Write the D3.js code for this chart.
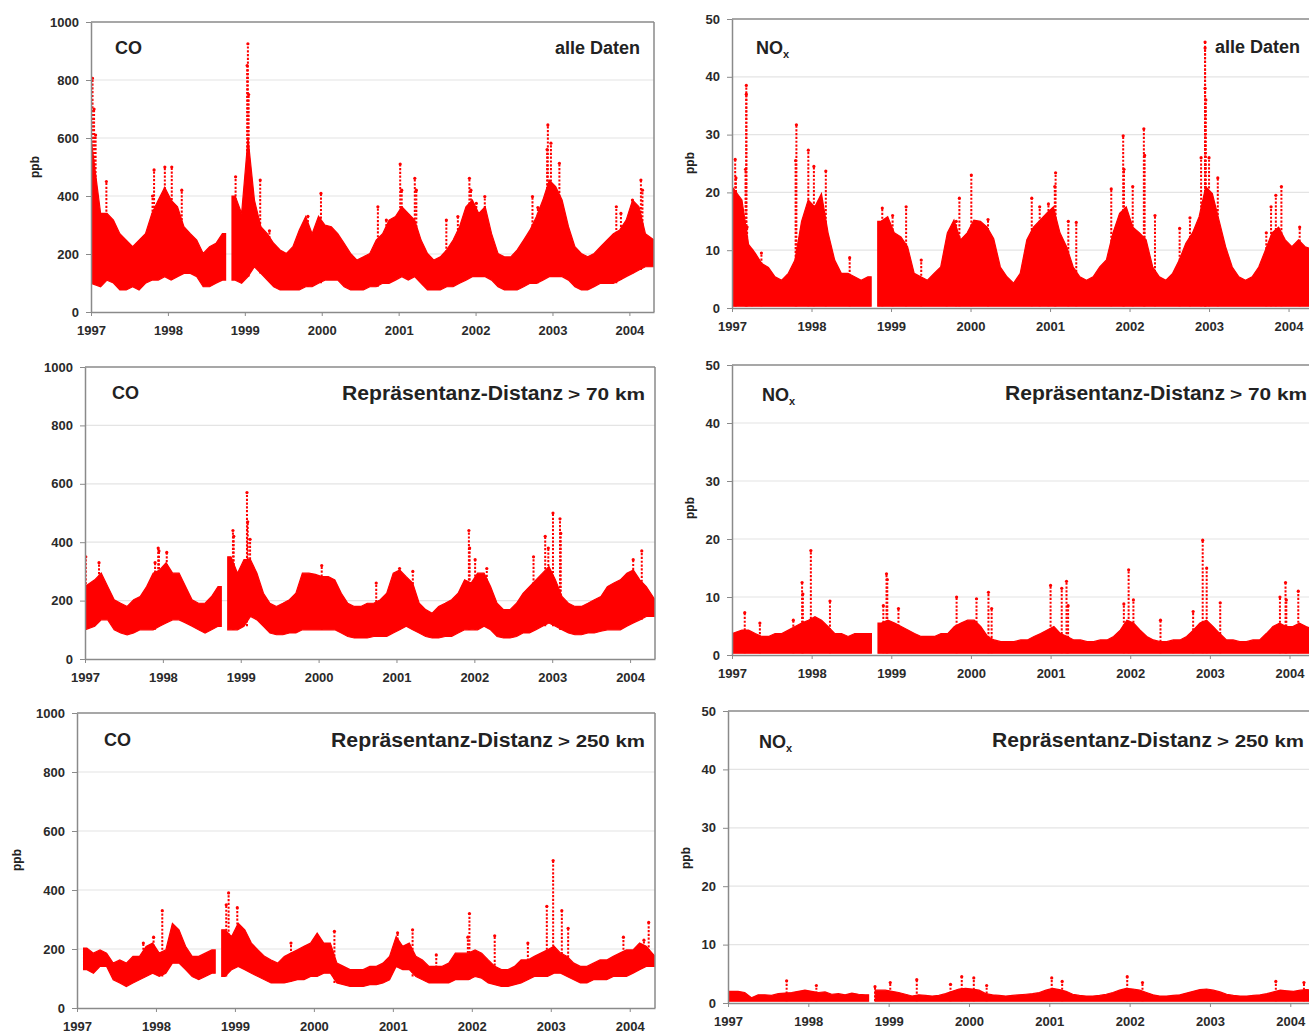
<!DOCTYPE html>
<html>
<head>
<meta charset="utf-8">
<script src="https://cdn.jsdelivr.net/npm/d3@7"></script>
<style>
  body { margin: 0; background: #fff; }
  svg { display: block; font-family: "Liberation Sans", Arial, sans-serif; }
  .axis path, .axis line { stroke: #8a8a8a; }
  .axis text { fill: #2a2a2a; font-size: 13px; font-weight: bold; font-family: "Liberation Sans", Arial, sans-serif; }
</style>
</head>
<body>
<svg width="1309" height="1036"></svg>
<script>
// monthly envelopes Jan 1997 .. Apr 2004 (88 months), null = no data (Oct 1998)
const yearTicks = [1997, 1998, 1999, 2000, 2001, 2002, 2003, 2004];
const coTicks = [0, 200, 400, 600, 800, 1000];
const noxTicks = [0, 10, 20, 30, 40, 50];

// CO, alle Daten
const coAllLo = [99,87,110,100,76,76,87,76,99,110,110,122, 110,122,133,133,122,87,87,99,110,null,110,99,
  122,156,133,110,87,76,76,76,76,87,87,99, 110,110,110,87,76,76,76,87,87,99,99,110,
  122,110,122,99,76,76,76,87,87,99,110,122, 122,122,110,87,76,76,76,87,99,99,110,122,
  122,122,110,87,76,76,87,99,99,99,110,122, 133,145,156,156];
const coAllHi = [600,340,340,317,270,248,225,248,270,340,386,430, 386,363,294,270,248,202,225,237,270,null,400,340,
  600,386,294,270,237,214,202,225,283,329,270,330, 300,294,270,237,202,179,190,202,248,270,317,329,
  363,340,317,248,202,179,190,214,248,294,363,386, 340,363,270,202,190,190,214,248,283,329,386,455,
  432,386,294,225,202,190,202,225,248,270,283,317, 386,363,270,248];
const coAllSpikes = [[1997.02,806],[1997.04,700],[1997.06,610],[1997.2,450],[1997.8,400],[1997.82,490],[1997.96,500],
  [1998.05,500],[1998.18,420],[1998.88,466],[1999.03,850],[1999.04,925],[1999.05,750],[1999.2,455],[1999.32,280],
  [1999.82,330],[1999.99,409],[2000.73,363],[2000.84,317],[2001.02,510],[2001.04,420],[2001.21,461],[2001.23,420],
  [2001.62,317],[2001.77,329],[2001.92,461],[2001.94,420],[2002.01,375],[2002.12,398],[2002.74,398],[2002.81,360],
  [2002.93,560],[2002.94,645],[2002.98,582],[2003.09,513],[2003.83,363],[2003.89,340],[2004.04,386],[2004.15,455],[2004.17,420]];

// NOx, alle Daten
const noxAllHi = [21,18.7,11,9.5,7.7,7,5.4,4.8,6,8.3,15,18.7, 17.5,19.8,13,8.3,6,6,5.4,4.8,5.4,null,15,15.8,
  13,12.3,10.6,6,5.4,4.8,6,7.1,13,15.2,11.8,13, 15.2,15,14,12,7.1,5.4,4.3,6,11.8,14,15.2,16.4,
  17.5,13,10.6,7.1,5.4,4.8,5.4,7.1,8.3,13,16.4,17.5, 14,13,11.8,7.1,5.4,4.8,6,8.3,11.2,13,15.8,21,
  19.8,15.2,10.6,7.1,5.4,4.8,5.4,7.1,10,13,14,11.8, 10.6,11.8,10.6,10];
const noxAllSpikes = [[1997.04,25.7],[1997.05,22.5],[1997.18,38.5],[1997.18,37],[1997.17,24],[1997.19,14],[1997.25,10],
  [1997.37,9.5],[1997.81,31.7],[1997.8,25.5],[1997.96,27.3],[1998.03,24.5],[1998.18,23.7],[1998.48,8.7],[1998.89,17.3],
  [1999.02,16],[1999.19,17.5],[1999.38,8.3],[1999.7,9.5],[1999.82,15],[1999.86,19],[2000.01,23],[2000.22,15.3],
  [2000.77,19],[2000.87,17.5],[2000.98,18],[2001.06,21],[2001.07,23.4],[2001.23,15],[2001.33,14.8],[2001.77,20.6],
  [2001.92,29.8],[2001.93,24],[2002.04,21],[2002.18,31],[2002.19,26.4],[2002.32,16],[2002.63,13.8],[2002.76,15.6],
  [2002.9,26],[2002.95,46],[2002.95,45],[2002.95,38],[2002.96,36],[2003.0,26],[2003.11,22.5],[2003.72,13],
  [2003.78,17.5],[2003.84,19.5],[2003.91,21],[2004.14,14]];

// CO, Repräsentanz-Distanz > 70 km
const co70Lo = [100,112,134,134,100,89,83,89,100,100,100,112, 123,134,134,123,112,100,89,100,112,null,100,100,
  112,146,134,112,89,83,83,89,89,100,100,100, 100,100,100,89,77,72,72,72,77,77,77,89,
  100,112,100,89,77,72,72,77,77,89,100,100, 100,112,100,77,72,72,77,89,89,100,112,123,
  112,100,89,83,83,89,89,95,100,100,100,112, 123,134,146,146];
const co70Hi = [248,271,294,248,203,191,180,203,214,248,294,305, 330,294,294,248,203,191,191,214,248,null,350,294,
  340,340,294,225,191,180,191,203,225,294,294,290, 282,282,271,225,191,180,180,191,191,203,225,294,
  305,282,260,191,169,157,180,191,203,225,271,260, 294,294,248,191,169,169,191,225,248,271,294,317,
  271,214,191,180,180,191,203,214,248,260,271,294, 305,271,248,203];
const co70Spikes = [[1997.01,350],[1997.18,330],[1997.9,330],[1997.94,380],[1997.95,370],[1998.05,365],[1998.9,440],
  [1998.91,420],[1999.08,570],[1999.09,470],[1999.12,410],[2000.04,320],[2000.74,260],[2001.04,310],[2001.21,300],
  [2001.93,440],[2001.94,380],[2002.01,340],[2002.16,310],[2002.76,350],[2002.91,420],[2002.95,380],[2003.01,500],
  [2003.1,480],[2003.11,430],[2004.04,340],[2004.15,370]];

// NOx, Repräsentanz-Distanz > 70 km
const nox70Hi = [3.7,4.3,4.3,3.7,3.2,3.2,3.7,3.7,4.3,4.9,5.5,6, 6.6,6,4.9,3.7,3.7,3.2,3.7,3.7,3.7,null,5.5,6,
  5.5,4.9,4.3,3.7,3.2,3.2,3.2,3.7,3.7,4.9,5.5,6, 6,4.9,3.2,2.6,2.3,2.3,2.3,2.6,2.6,3.2,3.7,4.3,
  4.9,3.7,3.2,2.6,2.6,2.3,2.3,2.6,2.6,3.2,4.3,6, 5.5,4.3,3.2,2.6,2.3,2.3,2.6,2.6,3.2,4.3,5.5,6,
  4.9,3.7,2.6,2.6,2.3,2.3,2.6,2.6,3.7,4.9,5.5,4.9, 4.9,5.5,4.9,4.3];
const nox70Spikes = [[1997.16,7.3],[1997.35,5.5],[1997.77,6],[1997.88,12.5],[1997.89,10.5],[1997.99,18],[1998.23,9.3],
  [1998.9,8.5],[1998.94,14],[1998.95,13],[1999.09,8],[1999.82,10],[2000.07,9.7],[2000.22,10.8],[2000.26,8],
  [2001.0,12],[2001.14,11.5],[2001.2,12.7],[2001.22,8.5],[2001.92,8.8],[2001.98,14.7],[2002.04,9.5],[2002.38,6],
  [2002.79,7.5],[2002.91,19.8],[2002.96,15],[2003.13,9],[2003.88,10],[2003.95,12.5],[2003.96,9.5],[2004.11,11]];

// CO, Repräsentanz-Distanz > 250 km
const co250Lo = [null,130,118,141,141,96,85,73,85,96,107,118, 107,118,152,152,130,107,96,107,118,null,107,130,
  141,130,118,107,96,85,85,85,90,96,96,107, 107,118,118,85,79,73,73,73,79,79,85,96,
  141,130,130,107,96,85,85,85,85,96,96,96, 107,101,85,79,73,73,79,85,96,107,107,107,
  118,118,107,96,85,85,96,96,96,107,107,107, 118,130,141,141];
const co250Hi = [null,203,186,197,186,152,163,152,175,175,209,220, 186,197,287,265,209,175,175,186,197,null,265,242,
  287,265,220,197,175,163,152,175,186,197,209,220, 254,220,220,152,141,130,130,130,141,141,152,175,
  242,209,220,175,163,141,141,141,152,186,186,186, 197,186,163,141,130,130,141,163,163,175,186,197,
  209,186,175,152,141,141,152,163,163,175,186,197, 197,220,209,175];
const co250Spikes = [[1997.84,220],[1997.97,240],[1998.08,330],[1998.89,350],[1998.92,390],[1999.03,340],[1999.71,220],
  [2000.26,260],[2001.06,255],[2001.25,265],[2001.55,180],[2001.95,240],[2001.97,320],[2002.29,245],[2002.71,220],
  [2002.95,345],[2003.03,500],[2003.14,330],[2003.22,270],[2003.92,240],[2004.18,230],[2004.24,290]];

// NOx, Repräsentanz-Distanz > 250 km
const nox250Hi = [2.0,2.0,1.8,0.9,1.4,1.4,1.3,1.6,1.7,1.8,2.0,2.2, 2.0,1.8,1.9,1.5,1.6,1.4,1.7,1.5,1.4,null,2.2,2.2,
  2.0,1.8,1.5,1.2,1.4,1.3,1.2,1.3,1.6,2.0,2.4,2.5, 2.4,2.2,1.6,1.4,1.3,1.2,1.3,1.4,1.5,1.6,1.8,2.2,
  2.5,2.3,2.0,1.5,1.3,1.2,1.2,1.3,1.5,1.8,2.2,2.5, 2.4,2.2,1.8,1.4,1.2,1.2,1.3,1.4,1.7,2.0,2.3,2.4,
  2.2,1.9,1.5,1.3,1.2,1.2,1.3,1.4,1.6,1.9,2.2,2.1, 2.0,2.2,2.3,2.0];
const nox250Spikes = [[1997.73,3.8],[1998.1,3.0],[1998.83,2.8],[1999.02,3.5],[1999.35,4.0],[1999.77,3.2],[1999.91,4.5],
  [2000.06,4.3],[2000.22,3.0],[2001.03,4.3],[2001.16,3.7],[2001.97,4.5],[2002.16,3.5],[2003.82,3.7],[2004.17,3.5]];

const noxFloor = 0.3;
const tStart = 1997, tEnd = 2004.32;

const svg = d3.select("svg");
const red = "#ff0000";

const panels = [
  { box: [91, 654, 22, 312], yMax: 1000, ticks: coTicks, lo: coAllLo, hi: coAllHi, spikes: coAllSpikes,
    species: "CO", title: "alle Daten", ppb: [35, 167], labelPos: [115, 54], titlePos: [640, 54] },
  { box: [732, 1314, 19, 308], yMax: 50, ticks: noxTicks, lo: null, hi: noxAllHi, spikes: noxAllSpikes,
    species: "NOx", title: "alle Daten", ppb: [690, 163], labelPos: [756, 54], titlePos: [1300, 53] },
  { box: [85, 655, 367, 659], yMax: 1000, ticks: coTicks, lo: co70Lo, hi: co70Hi, spikes: co70Spikes,
    species: "CO", title: ["Repräsentanz-Distanz", "> 70 km"], widths: [221, 77], ppb: null,
    labelPos: [112, 399], titlePos: [342, 400] },
  { box: [732, 1315, 365, 655], yMax: 50, ticks: noxTicks, lo: null, hi: nox70Hi, spikes: nox70Spikes,
    species: "NOx", title: ["Repräsentanz-Distanz", "> 70 km"], widths: [220, 77], ppb: [690, 508],
    labelPos: [762, 401], titlePos: [1005, 400] },
  { box: [77, 655, 713, 1008], yMax: 1000, ticks: coTicks, lo: co250Lo, hi: co250Hi, spikes: co250Spikes,
    species: "CO", title: ["Repräsentanz-Distanz", "> 250 km"], widths: [222, 87], ppb: [17, 860],
    labelPos: [104, 746], titlePos: [331, 747] },
  { box: [728, 1316, 711, 1003], yMax: 50, ticks: noxTicks, lo: null, hi: nox250Hi, spikes: nox250Spikes,
    species: "NOx", title: ["Repräsentanz-Distanz", "> 250 km"], widths: [220, 87], ppb: [686, 858],
    labelPos: [759, 748], titlePos: [992, 747] }
];

panels.forEach(function (p, k) {
  const [left, right, top, bottom] = p.box;
  const x = d3.scaleLinear().domain([tStart, tEnd]).range([left, right]);
  const y = d3.scaleLinear().domain([0, p.yMax]).range([bottom, top]);
  const g = svg.append("g");

  // grid
  g.selectAll("line.grid")
    .data(p.ticks.filter(t => t > 0 && t < p.yMax))
    .enter().append("line")
    .attr("x1", left).attr("x2", right)
    .attr("y1", d => y(d)).attr("y2", d => y(d))
    .style("stroke", "#e4e4e4").style("stroke-width", 1.2);

  // data rows: month centres; months next to a gap are held out to the month edge
  const n = p.hi.length;
  const rows = [];
  p.hi.forEach(function (h, i) {
    const lo = p.lo ? p.lo[i] : noxFloor;
    const start = tStart + i / 12, end = Math.min(tEnd, tStart + (i + 1) / 12);
    if (h == null) { rows.push({ t: start + 1 / 24, hi: null, lo: null }); return; }
    if (i === 0 || p.hi[i - 1] == null) rows.push({ t: start, hi: h, lo: lo });
    if (i > 0 && i < n - 1) rows.push({ t: start + 1 / 24, hi: h, lo: lo });
    if (i === n - 1 || p.hi[i + 1] == null) rows.push({ t: end, hi: h, lo: lo });
  });
  const area = d3.area()
    .defined(d => d.hi != null)
    .x(d => x(d.t))
    .y0(d => y(d.lo))
    .y1(d => y(d.hi))
    .curve(d3.curveLinear);

  const clipId = "clip" + k;
  g.append("clipPath").attr("id", clipId)
    .append("rect").attr("x", left).attr("y", top).attr("width", right - left).attr("height", bottom - top);
  const dg = g.append("g").attr("clip-path", "url(#" + clipId + ")");

  dg.append("path").datum(rows)
    .attr("d", area)
    .attr("fill", red)
    .attr("stroke", red)
    .attr("stroke-width", 1.2);

  function baseAt(t) {
    const i = Math.max(0, Math.min(n - 1, Math.floor((t - tStart) * 12)));
    const lo = p.lo ? p.lo[i] : noxFloor;
    return lo == null ? 100 : lo;
  }
  // spikes: columns of dots
  dg.selectAll("line.spike").data(p.spikes).enter().append("line")
    .attr("x1", d => x(d[0])).attr("x2", d => x(d[0]))
    .attr("y1", d => y(baseAt(d[0]))).attr("y2", d => y(d[1]))
    .style("stroke", red).style("stroke-width", 2)
    .style("stroke-dasharray", "2.2,1.6");
  dg.selectAll("circle.spike").data(p.spikes).enter().append("circle")
    .attr("cx", d => x(d[0])).attr("cy", d => y(d[1])).attr("r", 1.6)
    .attr("fill", red);

  // frame
  g.append("line").attr("x1", left).attr("x2", right).attr("y1", top).attr("y2", top)
    .style("stroke", "#8a8a8a").style("stroke-width", 1.5);
  g.append("line").attr("x1", right).attr("x2", right).attr("y1", top).attr("y2", bottom)
    .style("stroke", "#8a8a8a").style("stroke-width", 1.5);

  // axes
  g.append("g").attr("class", "axis")
    .attr("transform", "translate(" + left + ",0)")
    .call(d3.axisLeft(y).tickValues(p.ticks).tickFormat(d3.format("d")).tickSize(5).tickPadding(7).tickSizeOuter(0))
    .call(a => a.select(".domain").style("stroke-width", 1.5));
  g.append("g").attr("class", "axis")
    .attr("transform", "translate(0," + bottom + ")")
    .call(d3.axisBottom(x).tickValues(yearTicks).tickFormat(d3.format("d")).tickSize(4).tickPadding(10).tickSizeOuter(0))
    .call(a => a.select(".domain").style("stroke-width", 1.5));

  // species label
  const sp = g.append("text")
    .attr("x", p.labelPos[0]).attr("y", p.labelPos[1])
    .style("font-size", "18px").style("font-weight", "bold").style("fill", "#222");
  if (p.species === "NOx") {
    sp.append("tspan").text("NO");
    sp.append("tspan").text("x").attr("dy", 4).style("font-size", "11px");
  } else {
    sp.text("CO");
  }

  // subset title
  if (typeof p.title === "string") {
    g.append("text")
      .attr("x", p.titlePos[0]).attr("y", p.titlePos[1])
      .attr("text-anchor", "end")
      .style("font-size", "18px").style("font-weight", "bold").style("fill", "#222")
      .text(p.title);
  } else {
    const t = g.append("text")
      .attr("x", p.titlePos[0]).attr("y", p.titlePos[1])
      .style("font-weight", "bold").style("fill", "#222");
    t.append("tspan").style("font-size", "20px")
      .attr("textLength", p.widths[0]).attr("lengthAdjust", "spacingAndGlyphs")
      .text(p.title[0]);
    t.append("tspan").attr("dx", 5).style("font-size", "16px")
      .attr("textLength", p.widths[1]).attr("lengthAdjust", "spacingAndGlyphs")
      .text(p.title[1]);
  }

  // unit
  if (p.ppb) {
    g.append("text")
      .attr("transform", "translate(" + p.ppb[0] + "," + p.ppb[1] + ") rotate(-90)")
      .attr("text-anchor", "middle")
      .attr("dy", "0.35em")
      .style("font-size", "12px").style("font-weight", "bold").style("fill", "#222")
      .text("ppb");
  }
});
</script>
</body>
</html>
